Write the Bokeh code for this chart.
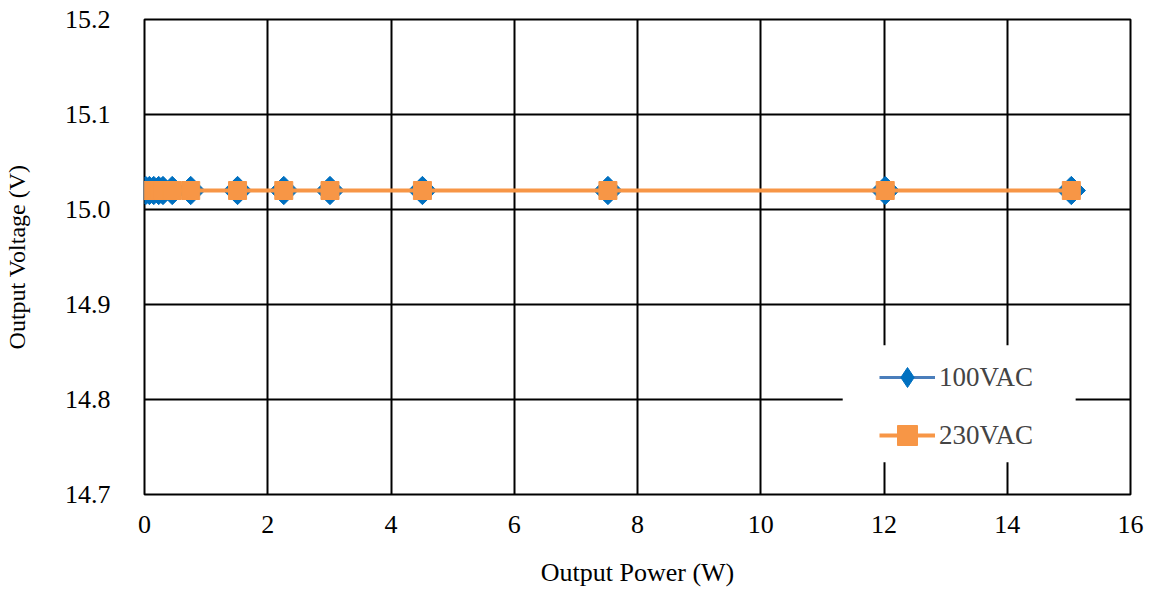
import math
from bokeh.plotting import figure
from bokeh.models import Legend, LegendItem, FixedTicker, Range1d, BoxAnnotation, CustomJSTickFormatter
from bokeh.embed import file_html
from bokeh.resources import INLINE

power_100 = [0.02, 0.08, 0.15, 0.23, 0.30, 0.45, 0.75, 1.51, 2.26, 3.01, 4.51, 7.52, 12.02, 15.04]
volt_100 = [15.02] * 14
power_230 = [0.02, 0.08, 0.15, 0.23, 0.30, 0.45, 0.75, 1.51, 2.26, 3.01, 4.51, 7.52, 12.02, 15.04]
volt_230 = [15.02] * 14
x_ticks = [0, 2, 4, 6, 8, 10, 12, 14, 16]
y_ticks = [14.7, 14.8, 14.9, 15.0, 15.1, 15.2]

FONT = "Liberation Serif"

p = figure(width=1149, height=589, output_backend="svg", toolbar_location=None,
           x_range=Range1d(0, 16), y_range=Range1d(14.7, 15.2),
           min_border_left=144, min_border_right=19, min_border_top=19, min_border_bottom=95)

p.outline_line_color = "black"
p.outline_line_width = 2
for ax in (p.xaxis[0], p.yaxis[0]):
    ax.axis_line_color = None
    ax.major_tick_line_color = None
    ax.minor_tick_line_color = None
    ax.major_label_text_font = FONT
    ax.major_label_text_font_size = "26px"
    ax.major_label_text_color = "black"
    ax.axis_label_text_font = FONT
    ax.axis_label_text_font_style = "normal"
    ax.axis_label_text_color = "black"
p.xaxis.axis_label_text_font_size = "26px"
p.yaxis.axis_label_text_font_size = "24px"

p.xaxis.ticker = FixedTicker(ticks=x_ticks)
p.yaxis.ticker = FixedTicker(ticks=y_ticks)
p.yaxis.formatter = CustomJSTickFormatter(code="return tick.toFixed(1);")
p.xaxis.major_label_standoff = 15
p.yaxis.major_label_standoff = 28
p.xaxis.axis_label = "Output Power (W)"
p.yaxis.axis_label = "Output Voltage (V)"
p.xaxis.axis_label_standoff = 22
p.yaxis.axis_label_standoff = 32

p.xgrid.grid_line_color = "black"
p.ygrid.grid_line_color = "black"
p.xgrid.grid_line_width = 2
p.ygrid.grid_line_width = 2
p.xgrid.grid_line_alpha = 1
p.ygrid.grid_line_alpha = 1

# white legend background box (hides gridlines behind legend)
p.add_layout(BoxAnnotation(left=11.33, right=15.11, bottom=14.734, top=14.857,
                           fill_color="white", fill_alpha=1, line_color=None))

blue = "#0070C0"
blue_line = "#4A7EBB"
orange = "#F79646"

l1 = p.line(power_100, volt_100, line_color=blue_line, line_width=3)
# diamond used for the legend swatch (fully covered by the rotated squares on the plot)
m1_leg = p.scatter(power_100, volt_100, marker="diamond", size=19,
                   fill_color=blue, line_color=blue, line_width=1)
m1 = p.scatter(power_100, volt_100, marker="square", angle=math.pi / 4, size=20,
               fill_color=blue, line_color=blue)
l2 = p.line(power_230, volt_230, line_color=orange, line_width=4)
m2 = p.scatter(power_230, volt_230, marker="square", size=18,
               fill_color=orange, line_color=orange)

legend = Legend(items=[LegendItem(label="100VAC", renderers=[l1, m1_leg]),
                       LegendItem(label="230VAC", renderers=[l2, m2])],
                location=(735, 34), label_text_font=FONT, label_text_font_size="27px",
                border_line_color=None, background_fill_alpha=0,
                glyph_width=56, glyph_height=50, spacing=8, padding=22, margin=0,
                label_standoff=4)
p.add_layout(legend)

open("out.html", "w").write(file_html(p, INLINE))
